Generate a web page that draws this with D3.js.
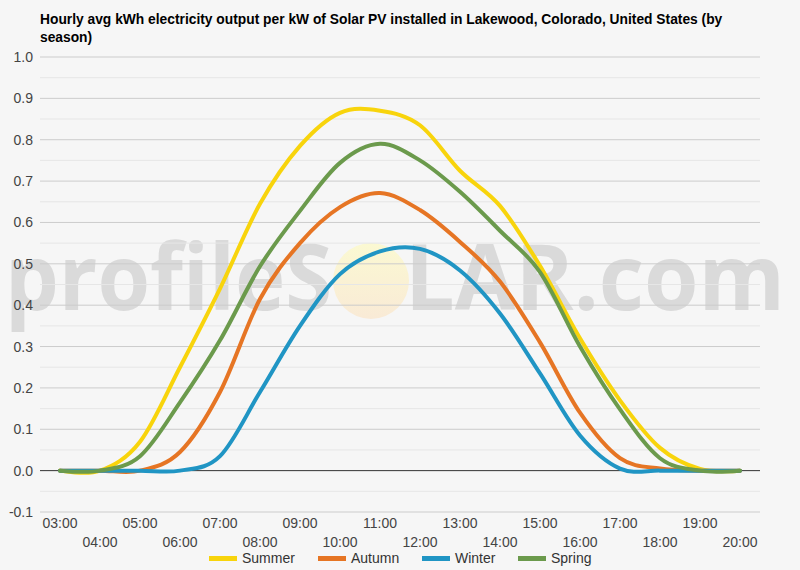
<!DOCTYPE html>
<html>
<head>
<meta charset="utf-8">
<script src="https://cdn.jsdelivr.net/npm/d3@7"></script>
<style>
  html, body { margin: 0; padding: 0; background: #f6f6f6; }
  svg { display: block; font-family: Arial, "Liberation Sans", sans-serif; }
</style>
</head>
<body>
<svg id="chart" width="800" height="570"></svg>
<script>
const hours = ["03:00","04:00","05:00","06:00","07:00","08:00","09:00","10:00","11:00","12:00","13:00","14:00","15:00","16:00","17:00","18:00","19:00","20:00"];
const seriesNames = ["Summer", "Autumn", "Winter", "Spring"];
const summer = [0, 0, 0.07, 0.25, 0.44, 0.645, 0.785, 0.865, 0.87, 0.835, 0.725, 0.64, 0.495, 0.32, 0.17, 0.055, 0.004, 0];
const autumn = [0, 0, 0, 0.045, 0.19, 0.415, 0.55, 0.637, 0.671, 0.63, 0.553, 0.457, 0.31, 0.14, 0.03, 0.005, 0, 0];
const winter = [0, 0, 0, 0, 0.035, 0.19, 0.35, 0.475, 0.53, 0.536, 0.484, 0.38, 0.235, 0.085, 0.005, 0, 0, 0];
const spring = [0, 0, 0.035, 0.165, 0.315, 0.494, 0.628, 0.744, 0.79, 0.75, 0.674, 0.58, 0.48, 0.30, 0.148, 0.03, 0, 0];
const yTicks = [-0.1, 0, 0.1, 0.2, 0.3, 0.4, 0.5, 0.6, 0.7, 0.8, 0.9, 1.0];
const colors = ["#f8d40c", "#e67524", "#2095c4", "#6b9a4c"];
const titleLines = ["Hourly avg kWh electricity output per kW of Solar PV installed in Lakewood, Colorado, United States (by", "season)"];

const svg = d3.select("#chart");
svg.append("rect").attr("width", 800).attr("height", 570).attr("fill", "#f6f6f6");

const pLeft = 40, pRight = 760, pTop = 57, pBottom = 512;
const x = d3.scaleBand().domain(hours).range([pLeft, pRight]);
const xc = h => x(h) + x.bandwidth() / 2;
const y = d3.scaleLinear().domain([-0.1, 1.0]).range([pBottom, pTop]);

// watermark
const wm = svg.append("g");
const grad = svg.append("defs").append("linearGradient").attr("id", "sun").attr("x1", 0).attr("y1", 0).attr("x2", 0).attr("y2", 1);
grad.append("stop").attr("offset", "0%").attr("stop-color", "#fbf9d2");
grad.append("stop").attr("offset", "100%").attr("stop-color", "#f9ead6");
wm.append("circle").attr("cx", 371).attr("cy", 281).attr("r", 38).attr("fill", "url(#sun)");
wm.append("text").attr("x", 5).attr("y", 310).attr("font-size", 92).attr("font-weight", 700)
  .attr("font-family", "'Open Sans', Arial, sans-serif")
  .attr("textLength", 327).attr("lengthAdjust", "spacingAndGlyphs")
  .attr("fill", "#dadada").text("profileS");
wm.append("text").attr("x", 405).attr("y", 310).attr("font-size", 92).attr("font-weight", 700)
  .attr("font-family", "'Open Sans', Arial, sans-serif")
  .attr("textLength", 380).attr("lengthAdjust", "spacingAndGlyphs")
  .attr("fill", "#dadada").text("LAR.com");

// gridlines
const grid = svg.append("g");
yTicks.slice(0, -1).forEach((t, i) => {
  const m = (t + yTicks[i + 1]) / 2;
  grid.append("line").attr("x1", pLeft).attr("x2", pRight).attr("y1", y(m)).attr("y2", y(m))
    .attr("stroke", "#e6e6e6").attr("stroke-width", 1);
});
yTicks.forEach(t => {
  grid.append("line").attr("x1", pLeft).attr("x2", pRight).attr("y1", y(t)).attr("y2", y(t))
    .attr("stroke", Math.abs(t) < 1e-9 ? "#333" : "#cccccc").attr("stroke-width", 1);
});

// y axis labels
const yAxis = d3.axisLeft(y).tickValues(yTicks).tickFormat(d => d.toFixed(1)).tickSize(0).tickPadding(7);
const yg = svg.append("g").attr("transform", `translate(${pLeft},0)`).call(yAxis);
yg.select(".domain").remove();
yg.selectAll("text").attr("font-size", 14).attr("fill", "#444").attr("font-family", "Arial, 'Liberation Sans', sans-serif");

// x axis labels (two staggered rows)
const xAxis = d3.axisBottom(x).tickSize(0).tickPadding(0);
const xg = svg.append("g").attr("transform", `translate(0,${pBottom})`).call(xAxis);
xg.select(".domain").remove();
xg.selectAll("text").attr("font-size", 14).attr("fill", "#444")
  .attr("font-family", "Arial, 'Liberation Sans', sans-serif")
  .attr("dy", null)
  .attr("y", (d, i) => i % 2 === 0 ? 16 : 35);

// lines
const data = [summer, autumn, winter, spring];
const line = d3.line().x((d, i) => xc(hours[i])).y(d => y(d)).curve(d3.curveCardinal.tension(0));
data.forEach((s, k) => {
  svg.append("path").datum(s).attr("d", line).attr("fill", "none")
    .attr("stroke", colors[k]).attr("stroke-width", 4).attr("stroke-linejoin", "round").attr("stroke-linecap", "round");
});

// title
const title = svg.append("text").attr("x", 40).attr("font-size", 13.8).attr("font-weight", "bold").attr("fill", "#000");
titleLines.forEach((l, i) => title.append("tspan").attr("x", 40).attr("y", 24 + i * 18).text(l));

// legend
const legendX = [209, 318, 422, 518];
const lg = svg.append("g");
seriesNames.forEach((n, i) => {
  lg.append("rect").attr("x", legendX[i]).attr("y", 556).attr("width", 28).attr("height", 5).attr("fill", colors[i]);
  lg.append("text").attr("x", legendX[i] + 33).attr("y", 563).attr("font-size", 14).attr("fill", "#333").text(n);
});
</script>
</body>
</html>
